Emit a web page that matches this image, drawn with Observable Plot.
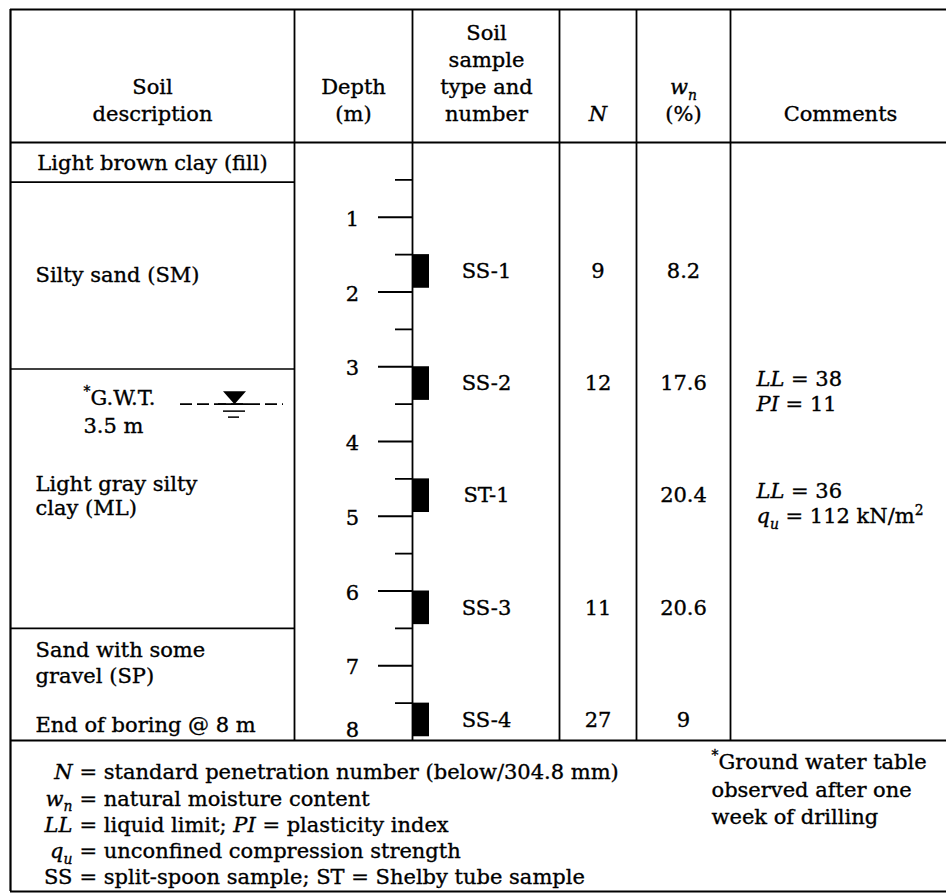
<!DOCTYPE html>
<html><head><meta charset="utf-8">
<script src="https://cdn.jsdelivr.net/npm/d3@7"></script>
<script src="https://cdn.jsdelivr.net/npm/@observablehq/plot@0.6"></script>
<style>html,body{margin:0;padding:0;background:#fff} svg text{stroke:#000;stroke-width:0.35px}</style>
</head><body><div id="chart"></div>
<script>
// ---------- DATA ----------
const boringDepth = 8;                       // m
const depthTicks = [0.5,1,1.5,2,2.5,3,3.5,4,4.5,5,5.5,6,6.5,7,7.5];
const depthLabels = [1,2,3,4,5,6,7,8];
const layerBounds = [0.53, 3.03, 6.5];       // soil layer boundaries (m)
const soilText = ["Light brown clay (fill)", "Silty sand (SM)", "Light gray silty", "clay (ML)", "Sand with some", "gravel (SP)", "End of boring @ 8 m"];
const soilTextDepth = [0.28, 1.78, 4.57, 4.89, 6.79, 7.14, 7.8];
const gwtDepth = 3.5;
const gwtText = ["{sup:*}G.W.T.", "3.5 m"];
const sampleIds = ["SS-1", "SS-2", "ST-1", "SS-3", "SS-4"];
const sampleTop = [1.5, 3.0, 4.5, 6.0, 7.5];
const sampleBottom = [1.95, 3.45, 4.95, 6.45, 7.95];
const blowCounts = [9, 12, null, 11, 27];
const moisture = [8.2, 17.6, 20.4, 20.6, 9];
const comments = [[], ["{i:LL} = 38", "{i:PI} = 11"], ["{i:LL} = 36", "{i:q}{sub:u} = 112 kN/m{sup:2}"], [], []];
const headerLabels = [["Soil", "description"], ["Depth", "(m)"], ["Soil", "sample", "type and", "number"], ["{i:N}"], ["{i:w}{sub:n}", "(%)"], ["Comments"]];
const legendSymbols = ["{i:N}", "{i:w}{sub:n}", "{i:LL}", "{i:q}{sub:u}", "SS"];
const legendTexts = ["= standard penetration number (below/304.8 mm)", "= natural moisture content", "= liquid limit; {i:PI} = plasticity index", "= unconfined compression strength", "= split-spoon sample; ST = Shelby tube sample"];
const noteLines = ["{sup:*}Ground water table", "observed after one", "week of drilling"];

// ---------- LAYOUT ----------
const W = 946, H = 895;
const colEdges = [10, 294, 412, 559, 636, 730, 946];
const topY = 9, headerBottom = 142, bodyBottom = 740, footerBottom = 891;
const colCenters = [152, 353, 486, 597.5, 683, 840];
const FS = 21;

const samples = sampleIds.map((id, i) => ({id, top: sampleTop[i], bottom: sampleBottom[i], mid: (sampleTop[i] + sampleBottom[i]) / 2, n: blowCounts[i], w: moisture[i]}));
const commentRows = samples.flatMap((s, i) => comments[i].map((c, k) => ({depth: s.mid, k, text: c})));
const soilRows = soilText.map((t, i) => ({text: t, depth: soilTextDepth[i], centered: i === 0}));
const headerRows = headerLabels.flatMap((lines, c) => lines.map((t, j) => ({x: colCenters[c], k: lines.length - 1 - j, text: t})));
const legendRows = legendSymbols.map((s, i) => ({sym: s, text: legendTexts[i], i}));
const noteRows = noteLines.map((t, i) => ({text: t, i}));

const lineH = 27, legendH = 26.3;
const marks = [
  // outer borders
  Plot.ruleY([0], {x1: colEdges[0], x2: W, dy: topY - headerBottom, strokeWidth: 2.2}),
  Plot.ruleX([colEdges[0]], {y1: 0, y2: boringDepth, insetTop: topY - headerBottom, insetBottom: bodyBottom - footerBottom, strokeWidth: 2.2}),
  Plot.ruleY([boringDepth], {x1: colEdges[0], x2: W, dy: footerBottom - bodyBottom, strokeWidth: 2.2}),
  Plot.ruleY([0, boringDepth], {x1: colEdges[0], x2: W, strokeWidth: 2}),
  Plot.ruleX(colEdges.slice(1, -1), {y1: 0, y2: boringDepth, insetTop: topY - headerBottom, strokeWidth: 1.8}),
  Plot.ruleY(layerBounds, {x1: colEdges[0], x2: colEdges[1], strokeWidth: 1.6}),
  // depth scale ticks and labels
  Plot.ruleY(depthTicks, {x1: d => Number.isInteger(d) ? 378 : 395, x2: colEdges[2], strokeWidth: 1.8}),
  Plot.text(depthLabels.filter(d => d < boringDepth), {x: 352, y: d => d, text: d => String(d), fontSize: FS, dy: 2}),
  Plot.text(depthLabels.filter(d => d >= boringDepth), {x: 352, y: d => d, text: d => String(d), fontSize: FS, dy: -10}),
  // samples
  Plot.rect(samples, {x1: colEdges[2], x2: colEdges[2] + 17, y1: "top", y2: "bottom", fill: "black"}),
  Plot.text(samples, {x: colCenters[2], y: "mid", text: "id", fontSize: FS}),
  Plot.text(samples.filter(s => s.n != null), {x: colCenters[3], y: "mid", text: s => String(s.n), fontSize: FS}),
  Plot.text(samples, {x: colCenters[4], y: "mid", text: s => String(s.w), fontSize: FS}),
  Plot.text(commentRows.filter(r => r.k === 0), {x: 756, y: "depth", text: "text", textAnchor: "start", fontSize: FS, dy: -4}),
  Plot.text(commentRows.filter(r => r.k === 1), {x: 756, y: "depth", text: "text", textAnchor: "start", fontSize: FS, dy: 21}),
  // soil descriptions
  Plot.text(soilRows.filter(r => r.centered), {x: colCenters[0], y: "depth", text: "text", fontSize: FS}),
  Plot.text(soilRows.filter(r => !r.centered), {x: 35, y: "depth", text: "text", textAnchor: "start", fontSize: FS}),
  // ground water table
  Plot.text([gwtText[0]], {x: 83, y: () => gwtDepth, text: d => d, textAnchor: "start", lineAnchor: "bottom", fontSize: FS, dy: 1}),
  Plot.text([gwtText[1]], {x: 83, y: () => gwtDepth, text: d => d, textAnchor: "start", lineAnchor: "bottom", fontSize: FS, dy: 29}),
  Plot.ruleY([gwtDepth], {x1: 180, x2: 283, strokeDasharray: "12,5", strokeWidth: 1.8}),
  Plot.ruleY([gwtDepth], {x1: 218, x2: 248, strokeWidth: 1.8}),
  Plot.ruleY([gwtDepth], {x1: 223, x2: 245, strokeWidth: 1.5, dy: 7}),
  Plot.ruleY([gwtDepth], {x1: 228, x2: 239, strokeWidth: 1.5, dy: 13}),
  Plot.dot([gwtDepth], {x: 234, y: d => d, r: 11.5, fill: "black", stroke: null,
    symbol: {draw(ctx, size) { const r = Math.sqrt(size / Math.PI); ctx.moveTo(-r, -1.13 * r); ctx.lineTo(r, -1.13 * r); ctx.lineTo(0, 0); ctx.closePath(); }}}),
  // header
  ...[0,1,2,3].map(k => Plot.text(headerRows.filter(r => r.k === k), {x: "x", y: () => 0, text: "text", fontSize: FS, dy: -28 - lineH * k})),
  // footer legend
  ...[0,1,2,3,4].map(i => Plot.text(legendRows.filter(r => r.i === i), {x: 72, y: () => boringDepth, text: "sym", textAnchor: "end", fontSize: FS, dy: 32 + legendH * i})),
  ...[0,1,2,3,4].map(i => Plot.text(legendRows.filter(r => r.i === i), {x: 79, y: () => boringDepth, text: "text", textAnchor: "start", fontSize: FS, dy: 32 + legendH * i})),
  ...[0,1,2].map(i => Plot.text(noteRows.filter(r => r.i === i), {x: 711, y: () => boringDepth, text: "text", textAnchor: "start", fontSize: FS, dy: 22 + 27.5 * i}))
];

const chart = Plot.plot({
  width: W, height: H, margin: 0,
  x: {domain: [0, W], range: [0, W], axis: null},
  y: {domain: [0, boringDepth], range: [headerBottom, bodyBottom], axis: null},
  style: {fontFamily: "'DejaVu Serif', serif", fontSize: FS + "px", color: "black", background: "white"},
  marks
});
document.getElementById("chart").appendChild(chart);

// rich text: italic / subscript / superscript
function richify(root) {
  const re = /\{(i|sub|sup):([^}]*)\}/g;
  root.querySelectorAll("text").forEach(t => {
    const s = t.textContent;
    if (!s.includes("{")) return;
    const fs = parseFloat(getComputedStyle(t).fontSize) || FS;
    while (t.firstChild) t.removeChild(t.firstChild);
    let last = 0, off = 0, m;
    const add = (txt, kind) => {
      if (!txt) return;
      const sp = document.createElementNS("http://www.w3.org/2000/svg", "tspan");
      let target = kind === "sub" ? 0.28 * fs : kind === "sup" ? -0.42 * fs : 0;
      if (target !== off) { sp.setAttribute("dy", target - off); off = target; }
      if (kind === "i" || kind === "sub") sp.setAttribute("font-style", "italic");
      if (kind === "sub" || kind === "sup") sp.setAttribute("font-size", 0.66 * fs);
      sp.textContent = txt;
      t.appendChild(sp);
    };
    re.lastIndex = 0;
    while ((m = re.exec(s))) { add(s.slice(last, m.index), null); add(m[2], m[1]); last = re.lastIndex; }
    add(s.slice(last), null);
  });
}
richify(chart);
</script></body></html>
